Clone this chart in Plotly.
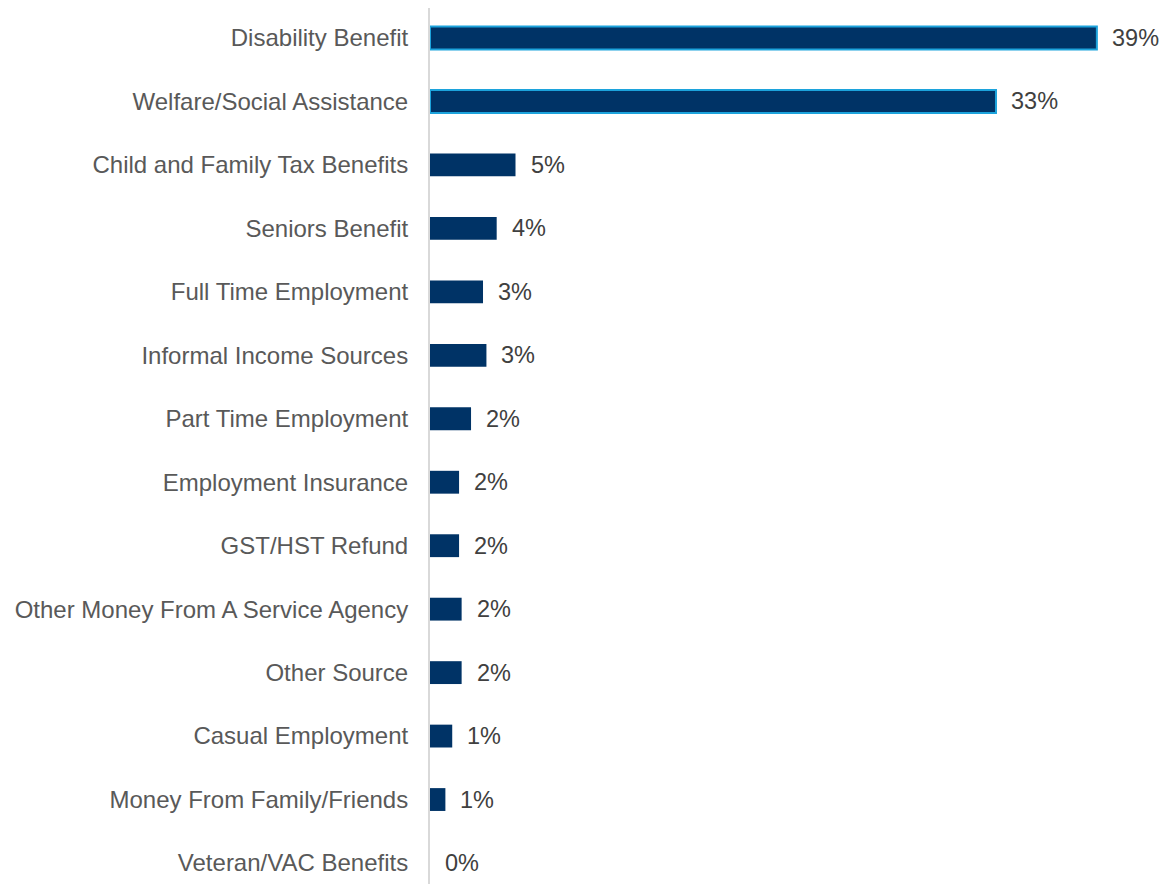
import plotly.graph_objects as go

categories = [
    "Disability Benefit",
    "Welfare/Social Assistance",
    "Child and Family Tax Benefits",
    "Seniors Benefit",
    "Full Time Employment",
    "Informal Income Sources",
    "Part Time Employment",
    "Employment Insurance",
    "GST/HST Refund",
    "Other Money From A Service Agency",
    "Other Source",
    "Casual Employment",
    "Money From Family/Friends",
    "Veteran/VAC Benefits",
]
values = [39.0, 33.1, 5.0, 3.9, 3.1, 3.3, 2.4, 1.7, 1.7, 1.85, 1.85, 1.3, 0.9, 0.0]
labels = ["39%", "33%", "5%", "4%", "3%", "3%", "2%", "2%", "2%", "2%", "2%", "1%", "1%", "0%"]
highlight = [True, True] + [False] * 12

FONT = "Liberation Sans, Arial, sans-serif"

fig = go.Figure()
fig.add_trace(go.Bar(
    x=values,
    y=categories,
    orientation="h",
    width=0.36,
    marker=dict(
        color="#003366",
        line=dict(
            color=["#1ca3dc" if h else "#003366" for h in highlight],
            width=[2 if h else 0 for h in highlight],
        ),
    ),
    hoverinfo="skip",
))

for c, v, t in zip(categories, values, labels):
    fig.add_annotation(
        x=v, y=c, text=t, showarrow=False, xanchor="left", yanchor="middle",
        xshift=13, font=dict(family=FONT, size=23.5, color="#404040"),
    )

fig.update_layout(
    width=1155, height=876,
    margin=dict(l=422, r=8, t=0, b=0),
    paper_bgcolor="white", plot_bgcolor="white",
    showlegend=False,
    font=dict(family=FONT, size=24, color="#595959"),
    xaxis=dict(range=[0, 42.4], visible=False, showgrid=False, zeroline=False),
    yaxis=dict(
        type="category",
        range=[13.331, -0.473],
        showgrid=False, zeroline=False,
        showline=True, linecolor="#d9d9d9", linewidth=2,
        ticks="", ticklabelstandoff=15,
        tickfont=dict(family=FONT, size=24, color="#595959"),
    ),
)

fig.write_html("out.html")
